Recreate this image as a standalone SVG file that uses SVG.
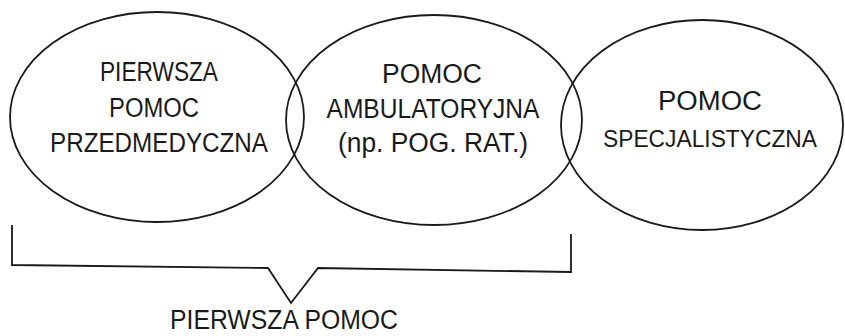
<svg xmlns="http://www.w3.org/2000/svg" width="845" height="336" viewBox="0 0 845 336">
<style>
.e{fill:none;stroke:#1a1a1a;stroke-width:1.8}
.t{font-family:"Liberation Sans",Arial,sans-serif;font-size:27px;fill:#1a1a1a;text-anchor:middle}
.s{font-size:24px}
.b{fill:none;stroke:#1a1a1a;stroke-width:1.8;stroke-linejoin:miter}
</style>
<rect width="845" height="336" fill="#ffffff"/>
<g id="node-pierwsza-pomoc-przedmedyczna">
<ellipse class="e" cx="157" cy="117" rx="147" ry="105"/>
<text class="t" x="159" y="81" textLength="118" lengthAdjust="spacingAndGlyphs">PIERWSZA</text>
<text class="t" x="154" y="117" textLength="90" lengthAdjust="spacingAndGlyphs">POMOC</text>
<text class="t" x="159" y="152" textLength="218" lengthAdjust="spacingAndGlyphs">PRZEDMEDYCZNA</text>
</g>
<g id="node-pomoc-ambulatoryjna">
<ellipse class="e" cx="434" cy="120" rx="148" ry="105"/>
<text class="t" x="432" y="83" textLength="100" lengthAdjust="spacingAndGlyphs">POMOC</text>
<text class="t" x="433" y="118" textLength="213" lengthAdjust="spacingAndGlyphs">AMBULATORYJNA</text>
<text class="t" x="433" y="152" textLength="190" lengthAdjust="spacingAndGlyphs">(np. POG. RAT.)</text>
</g>
<g id="node-pomoc-specjalistyczna">
<ellipse class="e" cx="702" cy="125" rx="141" ry="105"/>
<text class="t" x="710" y="110" textLength="104" lengthAdjust="spacingAndGlyphs">POMOC</text>
<text class="t s" x="710" y="147" textLength="214" lengthAdjust="spacingAndGlyphs">SPECJALISTYCZNA</text>
</g>
<g id="connectors">
<path class="b" d="M12,225 L12,265 L268,268 L291,303 L318,268 L571,272 L571,234"/>
</g>
<g id="label-pierwsza-pomoc">
<text class="t" x="284" y="329" textLength="228" lengthAdjust="spacingAndGlyphs">PIERWSZA POMOC</text>
</g>
</svg>
